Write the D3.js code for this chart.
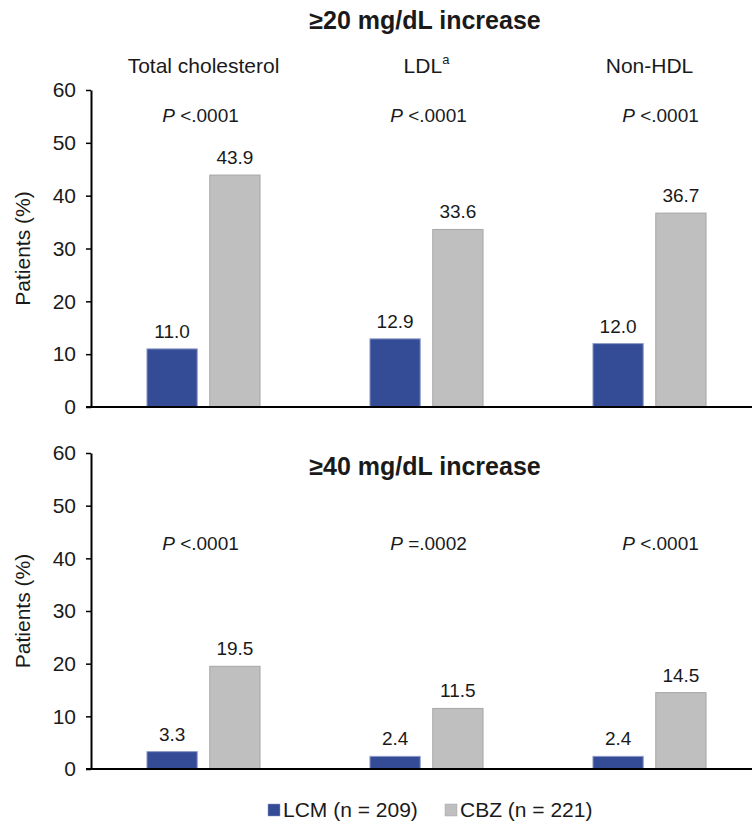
<!DOCTYPE html>
<html><head><meta charset="utf-8">
<script src="https://cdn.jsdelivr.net/npm/d3@7"></script>
<style>body{margin:0;background:#fff}svg{display:block}text{font-family:"Liberation Sans",Arial,sans-serif;fill:#1a1a1a}</style>
</head><body>
<script>
const categories = ["Total cholesterol", "LDL", "Non-HDL"];
const seriesNames = ["LCM (n = 209)", "CBZ (n = 221)"];
const panelTitles = ["≥20 mg/dL increase", "≥40 mg/dL increase"];
const lcm20 = [11.0, 12.9, 12.0];
const cbz20 = [43.9, 33.6, 36.7];
const lcm40 = [3.3, 2.4, 2.4];
const cbz40 = [19.5, 11.5, 14.5];
const pValues20 = ["<.0001", "<.0001", "<.0001"];
const pValues40 = ["<.0001", "=.0002", "<.0001"];
const yTicks = [0, 10, 20, 30, 40, 50, 60];
const colors = ["#344b96", "#bfbfbf"];
const strokes = ["#8e9bc8", "#a6a6a6"];

const W = 752, H = 821;
const svg = d3.select("body").append("svg").attr("width", W).attr("height", H);

const x0 = d3.scaleBand().domain(categories).range([92, 761]).padding(0);
const x1 = d3.scaleBand().domain(seriesNames).range([0, x0.bandwidth()]).paddingInner(0.2).paddingOuter(0.875);
// small horizontal nudges of the P-value labels per column (layout only)
const pNudge = [-3, 2, 11];

const panels = [
  {lcm: lcm20, cbz: cbz20, p: pValues20, range: [407, 90], pY: 122, title: panelTitles[0], titleY: 29},
  {lcm: lcm40, cbz: cbz40, p: pValues40, range: [769, 453], pY: 550, title: panelTitles[1], titleY: 475}
];

panels.forEach((pn, pi) => {
  const y = d3.scaleLinear().domain([0, 60]).range(pn.range);
  const g = svg.append("g");
  const ax = g.append("g").attr("transform", "translate(91,0)")
    .call(d3.axisLeft(y).tickValues(yTicks).tickSize(5).tickSizeOuter(0).tickPadding(10));
  ax.select(".domain").attr("stroke", "#000").attr("stroke-width", 2);
  ax.selectAll(".tick line").attr("stroke", "#000").attr("stroke-width", 1.5);
  ax.selectAll(".tick text").style("font-size", "21px").style("font-family", '"Liberation Sans",Arial,sans-serif').attr("fill", "#1a1a1a");
  const data = categories.map((c, i) => ({c, vals: [pn.lcm[i], pn.cbz[i]]}));
  data.forEach((d, i) => {
    d.vals.forEach((v, si) => {
      const bx = x0(d.c) + x1(seriesNames[si]);
      g.append("rect").attr("x", bx).attr("y", y(v)).attr("width", x1.bandwidth()).attr("height", y(0) - y(v))
        .attr("fill", colors[si]).attr("stroke", strokes[si]).attr("stroke-width", 1);
      g.append("text").attr("x", bx + x1.bandwidth() / 2).attr("y", y(v) - 11).attr("text-anchor", "middle")
        .style("font-size", "19px").text(v.toFixed(1));
    });
    const pt = g.append("text").attr("x", x0(d.c) + x0.bandwidth() / 2 + pNudge[i]).attr("y", pn.pY).attr("text-anchor", "middle").style("font-size", "19px");
    pt.append("tspan").style("font-style", "italic").text("P");
    pt.append("tspan").text(" " + pn.p[i]);
  });
  g.append("line").attr("x1", 86).attr("x2", W).attr("y1", y(0)).attr("y2", y(0)).attr("stroke", "#000").attr("stroke-width", 2);
  g.append("text").attr("transform", `translate(30,${(pn.range[0] + pn.range[1]) / 2}) rotate(-90)`).attr("text-anchor", "middle")
    .style("font-size", "21px").text("Patients (%)");
  g.append("text").attr("x", 425).attr("y", pn.titleY).attr("text-anchor", "middle").style("font-size", "25px").style("font-weight", "bold").text(pn.title);
});

categories.forEach(c => {
  const t = svg.append("text").attr("x", x0(c) + x0.bandwidth() / 2).attr("y", 73).attr("text-anchor", "middle").style("font-size", "21px");
  t.append("tspan").text(c);
  if (c === "LDL") t.append("tspan").attr("dy", -9).style("font-size", "13px").text("a");
});

const leg = svg.append("g");
const legX = [268, 445];
seriesNames.forEach((s, i) => {
  leg.append("rect").attr("x", legX[i]).attr("y", 804).attr("width", 12).attr("height", 12).attr("fill", colors[i]).attr("stroke", strokes[i]).attr("stroke-width", 0.5);
  leg.append("text").attr("x", legX[i] + 15).attr("y", 817).style("font-size", "21px").text(s);
});
</script>
</body></html>
